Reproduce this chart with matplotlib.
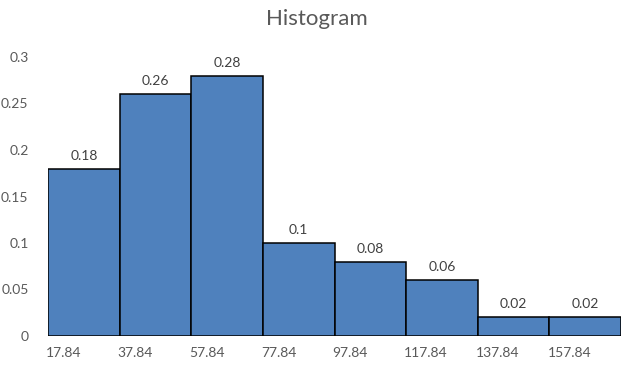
import matplotlib
matplotlib.use("Agg")
import matplotlib.pyplot as plt
from matplotlib.transforms import offset_copy

bin_edges = [17.84, 37.84, 57.84, 77.84, 97.84, 117.84, 137.84, 157.84, 177.84]
values = [0.18, 0.26, 0.28, 0.1, 0.08, 0.06, 0.02, 0.02]
value_labels = ["0.18", "0.26", "0.28", "0.1", "0.08", "0.06", "0.02", "0.02"]
x_tick_labels = ["17.84", "37.84", "57.84", "77.84", "97.84", "117.84", "137.84", "157.84"]
y_ticks = [0, 0.05, 0.1, 0.15, 0.2, 0.25, 0.3]
y_tick_labels = ["0", "0.05", "0.1", "0.15", "0.2", "0.25", "0.3"]

plt.rcParams['font.family'] = ['Lato', 'DejaVu Sans']

fig = plt.figure(figsize=(6.33, 3.72), dpi=100)
ax = fig.add_axes([48/633, (372-336)/372, (621-48)/633, (336-57)/372])

widths = [bin_edges[i+1] - bin_edges[i] for i in range(len(values))]
ax.bar(bin_edges[:-1], values, width=widths, align='edge',
       color='#4F81BD', edgecolor='black', linewidth=1.1)

ax.set_xlim(bin_edges[0], bin_edges[-1])
ax.set_ylim(0, 0.3)

for s in ax.spines.values():
    s.set_visible(False)

ax.set_yticks(y_ticks)
ax.set_yticklabels(y_tick_labels, color='#595959', fontsize=10)
ax.tick_params(axis='y', length=0, pad=14)
ax.set_xticks([])

for e, lab in zip(bin_edges[:-1], x_tick_labels):
    tr = offset_copy(ax.transData, fig=fig, x=-2, y=-11, units='dots')
    ax.text(e, 0, lab, transform=tr, ha='left', va='top',
            fontsize=10, color='#595959')

for e, w, v, lab in zip(bin_edges[:-1], widths, values, value_labels):
    tr = offset_copy(ax.transData, fig=fig, x=0, y=7, units='dots')
    ax.text(e + w/2, v, lab, transform=tr, ha='center', va='bottom',
            fontsize=10, color='#404040')

fig.text(0.5, 1 - 19/372, "Histogram", ha='center', va='center',
         fontsize=16, color='#595959')

fig.savefig("out.png", dpi=100)
